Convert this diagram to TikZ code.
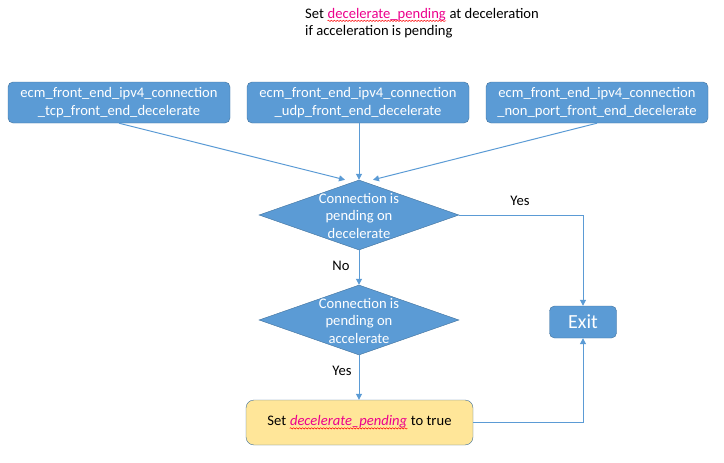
\documentclass[tikz,border=0pt]{standalone}
\usepackage{fontspec}
\setmainfont{Carlito}
\usetikzlibrary{arrows.meta,shapes.geometric,decorations.pathmorphing}

\definecolor{boxblue}{HTML}{5B9BD5}
\definecolor{edgeblue}{HTML}{41719C}
\definecolor{noteyellow}{HTML}{FFE699}
\newcommand{\pendvar}[1]{\tikz[baseline=(w.base), sharp corners]{\node[shape=rectangle, draw=none, fill=none, minimum width=0pt, minimum height=0pt, inner sep=0pt, text=magenta] (w) {#1};
  \draw[red, line width=0.5pt, sharp corners, decorate, decoration={snake, amplitude=0.7pt, segment length=3pt}] ([yshift=-2.5pt]w.base west) -- ([yshift=-2.5pt]w.base east);}}

\begin{document}
\begin{tikzpicture}[
        x=1pt, y=-1pt,
        font=\fontsize{14.6}{17.5}\selectfont,
        fnbox/.style={draw=edgeblue, fill=boxblue, text=white, rounded corners=5pt, align=center, minimum width=222pt, minimum height=41pt, inner sep=0pt},
        decide/.style={diamond, draw=edgeblue, fill=boxblue, inner sep=0pt, minimum width=200pt, minimum height=70pt},
        exitbox/.style={draw=edgeblue, fill=boxblue, text=white, rounded corners=5pt, minimum width=67pt, minimum height=32pt, font=\fontsize{20}{24}\selectfont},
        setbox/.style={draw=edgeblue, fill=noteyellow, rounded corners=8pt, minimum width=227pt, minimum height=45pt},
        arr/.style={-{Triangle[length=6pt,width=6pt]}, draw=boxblue, line width=1pt}
      ]
        \useasboundingbox (0,0) rectangle (724,463);
        % note at the top
        \node[anchor=north west, align=left, inner sep=0pt] (note) at (305,8) {Set \pendvar{decelerate\_pending} at deceleration\\if acceleration is pending};
        % entry functions
        \node[fnbox] (tcp) at (119,102.5) {ecm\_front\_end\_ipv4\_connection\\\_tcp\_front\_end\_decelerate};
        \node[fnbox] (udp) at (358,102.5) {ecm\_front\_end\_ipv4\_connection\\\_udp\_front\_end\_decelerate};
        \node[fnbox] (nonport) at (597,102.5) {ecm\_front\_end\_ipv4\_connection\\\_non\_port\_front\_end\_decelerate};
        % decisions
        \node[decide, label={[align=center, text=white, yshift=-1pt]center:Connection is\\pending on\\decelerate}] (pdecel) at (359,215) {};
        \node[decide, label={[align=center, text=white, yshift=-1pt]center:Connection is\\pending on\\accelerate}] (paccel) at (359,320) {};
        \node[exitbox] (exit) at (583,322) {Exit};
        \node[setbox] (setpend) at (359.5,422.5) {Set \textit{\pendvar{decelerate\_pending}} to true};
        % connectors
        \draw[arr] (tcp.south) -- ([xshift=-14pt]pdecel.north);
        \draw[arr] (udp.south -| pdecel.north) -- (pdecel.north);
        \draw[arr] (nonport.south) -- ([xshift=14pt]pdecel.north);
        \draw[arr] (pdecel.east) -| (exit.north);
        \draw[arr] (pdecel.south) -- (paccel.north);
        \draw[arr] (paccel.south) -- (setpend.north -| paccel.south);
        \draw[arr] (setpend.east) -| (exit.south);
        % branch labels
        \node (yes1) at (520,201) {Yes};
        \node (no1) at (341,266) {No};
        \node (yes2) at (342,371) {Yes};
      \end{tikzpicture}
\end{document}
